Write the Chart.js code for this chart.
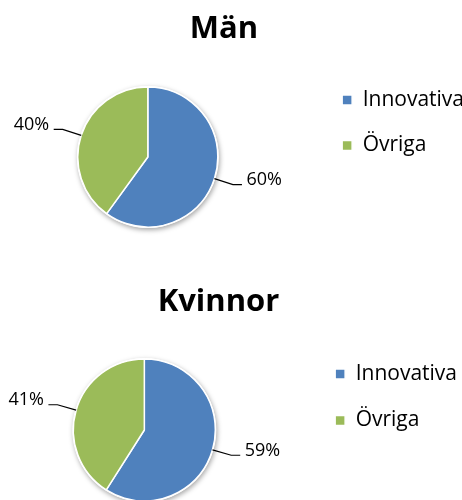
<!DOCTYPE html>
<html>
<head>
<meta charset="utf-8">
<script src="https://cdn.jsdelivr.net/npm/chart.js@4.4.1/dist/chart.umd.min.js"></script>
<style>
  html, body { margin: 0; padding: 0; background: #fff; overflow: hidden; width: 462px; height: 500px; }
  canvas { position: absolute; }
</style>
</head>
<body>
<canvas id="man" width="484" height="250" style="left:-22px;top:0"></canvas>
<canvas id="kvinnor" width="483" height="280" style="left:-21px;top:250px"></canvas>
<script>
// Kategorier och värden
const categories = ['Innovativa', 'Övriga'];
const menValues = [60, 40];
const womenValues = [59, 41];
const chartTitles = ['Män', 'Kvinnor'];
const sliceColors = ['#4F81BD', '#9BBB59'];

const FONT = "'Open Sans', sans-serif";

// Skugga under pajen (som i Excel)
const pieShadow = {
    id: 'pieShadow',
    beforeDatasetsDraw(chart) {
        const arc = chart.getDatasetMeta(0).data[0];
        if (!arc) return;
        const {x, y, outerRadius} = arc.getProps(['x', 'y', 'outerRadius'], true);
        const ctx = chart.ctx;
        ctx.save();
        ctx.shadowColor = 'rgba(0,0,0,0.35)';
        ctx.shadowBlur = 5;
        ctx.shadowOffsetX = 1;
        ctx.shadowOffsetY = 2;
        ctx.beginPath();
        ctx.arc(x, y, outerRadius + 1, 0, Math.PI * 2);
        ctx.fillStyle = '#fff';
        ctx.fill();
        ctx.restore();
    }
};

// Procentetiketter med ledarlinjer
const leaderLabels = {
    id: 'leaderLabels',
    afterDatasetsDraw(chart) {
        const ctx = chart.ctx;
        const values = chart.data.datasets[0].data;
        chart.getDatasetMeta(0).data.forEach((arc, i) => {
            const p = arc.getProps(['x', 'y', 'startAngle', 'endAngle', 'outerRadius'], true);
            const mid = (p.startAngle + p.endAngle) / 2;
            const cos = Math.cos(mid), sin = Math.sin(mid);
            const x0 = p.x + cos * p.outerRadius;
            const y0 = p.y + sin * p.outerRadius;
            const x1 = x0 + cos * 19.5;
            const y1 = y0 + sin * 19.5;
            const dir = cos >= 0 ? 1 : -1;
            const x2 = x1 + dir * 9;
            ctx.save();
            ctx.strokeStyle = '#000';
            ctx.lineWidth = 1.2;
            ctx.beginPath();
            ctx.moveTo(x0, y0);
            ctx.lineTo(x1, y1);
            ctx.lineTo(x2, y1);
            ctx.stroke();
            ctx.fillStyle = '#000';
            ctx.font = '18px ' + FONT;
            ctx.textAlign = dir > 0 ? 'left' : 'right';
            ctx.textBaseline = 'alphabetic';
            ctx.fillText(values[i] + '%', x2 + dir * 4.5, y1 + 0.5);
            ctx.restore();
        });
    }
};

function makePie(id, title, values, cfg) {
    return new Chart(document.getElementById(id), {
        type: 'pie',
        data: {
            labels: categories,
            datasets: [{
                data: values,
                backgroundColor: sliceColors,
                borderColor: '#fff',
                borderWidth: 1.5,
                radius: cfg.radius
            }]
        },
        options: {
            responsive: false,
            animation: false,
            layout: { padding: cfg.padding },
            plugins: {
                tooltip: { enabled: false },
                title: {
                    display: true,
                    text: title,
                    color: '#000',
                    font: { family: FONT, size: 31, weight: 'bold', lineHeight: 1.2 },
                    padding: cfg.titlePadding
                },
                legend: {
                    position: 'right',
                    align: 'start',
                    fullSize: false,
                    labels: {
                        color: '#000',
                        font: { family: FONT, size: 21 },
                        boxWidth: 10,
                        boxHeight: 10,
                        padding: cfg.legendPadding
                    }
                }
            }
        },
        plugins: [pieShadow, leaderLabels]
    });
}

makePie('man', chartTitles[0], menValues, {
    radius: 70,
    padding: { left: -4, right: -12, top: 0, bottom: 1 },
    titlePadding: { top: 10.4, bottom: 17.4 },
    legendPadding: 24.5
});

makePie('kvinnor', chartTitles[1], womenValues, {
    radius: 71,
    padding: { left: -9, right: -5, top: 0, bottom: 8 },
    titlePadding: { top: 33.9, bottom: 16.9 },
    legendPadding: 25.5
});
</script>
</body>
</html>
